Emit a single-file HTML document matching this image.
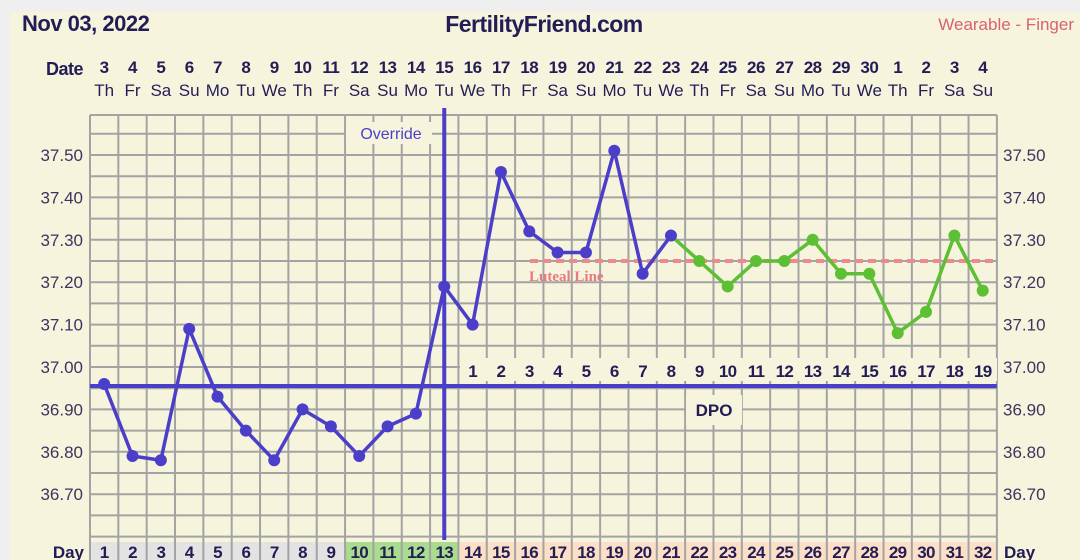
<!DOCTYPE html><html><head><meta charset="utf-8"><style>
body{margin:0;width:1080px;height:560px;overflow:hidden;background:#efefef;font-family:"Liberation Sans",sans-serif}
svg{display:block}
</style></head><body>
<svg id="s" width="1080" height="560" xmlns="http://www.w3.org/2000/svg">
<rect x="10" y="12" width="1070" height="548" fill="#f7f4de"/>
<g id="grid"></g>
<g font-family="Liberation Sans, sans-serif">
<text x="22" y="31" font-size="22" font-weight="bold" fill="#231c55" letter-spacing="-0.5">Nov 03, 2022</text>
<text x="544" y="32" font-size="23" font-weight="bold" fill="#231c55" text-anchor="middle" letter-spacing="-0.5">FertilityFriend.com</text>
<text x="1074" y="30" font-size="17" fill="#d8636b" text-anchor="end">Wearable - Finger</text>
<text x="83" y="75" font-size="18" font-weight="bold" fill="#231c55" text-anchor="end" letter-spacing="-0.5">Date</text>
<text x="84" y="558" font-size="17" font-weight="bold" fill="#231c55" text-anchor="end">Day</text>
<text x="1004" y="558" font-size="17" font-weight="bold" fill="#231c55">Day</text>
<text x="391" y="139" font-size="16" fill="#4b3fc9" text-anchor="middle">Override</text>
<text x="714" y="416" font-size="17" font-weight="bold" fill="#231c55" text-anchor="middle">DPO</text>
<text x="529" y="281" font-size="15" font-weight="bold" font-family="Liberation Serif, serif" fill="#e87a80">Luteal Line</text>
</g>
<g id="dyn" font-family="Liberation Sans, sans-serif"></g>
</svg>
<script>
(function(){
var NS="http://www.w3.org/2000/svg";
var g=document.getElementById('grid'),d=document.getElementById('dyn');
function el(p,t,a,txt){var e=document.createElementNS(NS,t);for(var k in a)e.setAttribute(k,a[k]);if(txt!==undefined)e.textContent=String(txt);p.appendChild(e);return e;}
var x0=90,w=28.34,gTop=115,gBot=542;
function cx(i){return x0+(i-0.5)*w;}
function Y(t){return 367-(t-37)*424;}
for(var i=1;i<=32;i++){var c=i<=9?'#e3e3e3':i<=13?'#a9dc8e':'#fbdfc6';el(g,'rect',{x:x0+(i-1)*w,y:gBot,width:w,height:20,fill:c});}
for(var k=0;k<30;k++){var y=155-21.2*2+21.2*k;if(y<gTop||y>gBot)continue;el(g,'line',{x1:x0,x2:x0+32*w,y1:y,y2:y,stroke:'#a3a3a3','stroke-width':2});}
for(var i=0;i<=32;i++){var x=x0+i*w;el(g,'line',{x1:x,x2:x,y1:gTop,y2:560,stroke:'#a3a3a3','stroke-width':2});}
el(g,'line',{x1:x0,x2:x0+32*w,y1:gTop,y2:gTop,stroke:'#a3a3a3','stroke-width':2});
el(g,'rect',{x:346,y:122,width:86,height:22,fill:'#f7f4de'});
el(g,'rect',{x:686,y:395,width:56,height:30,fill:'#f7f4de'});
el(g,'rect',{x:460,y:358,width:537,height:23,fill:'#f7f4de'});
var date=[3,4,5,6,7,8,9,10,11,12,13,14,15,16,17,18,19,20,21,22,23,24,25,26,27,28,29,30,1,2,3,4];
var wd=['Th','Fr','Sa','Su','Mo','Tu','We'];
for(var i=1;i<=32;i++){
 el(d,'text',{x:cx(i),y:73,'font-size':17,'font-weight':'bold',fill:'#231c55','text-anchor':'middle','letter-spacing':'-0.5'},date[i-1]);
 el(d,'text',{x:cx(i),y:96,'font-size':17,fill:'#231c55','text-anchor':'middle'},wd[(i-1)%7]);
 el(d,'text',{x:cx(i),y:558,'font-size':17,'font-weight':'bold',fill:'#231c55','text-anchor':'middle','letter-spacing':'-0.7'},i);
 if(i>=14)el(d,'text',{x:cx(i),y:377,'font-size':17,'font-weight':'bold',fill:'#231c55','text-anchor':'middle','letter-spacing':'-0.7'},i-13);
}
for(var k=0;k<9;k++){var t=(37.5-k*0.1),yy=Y(t)+6,s=t.toFixed(2);
 el(d,'text',{x:83,y:yy,'font-size':17,fill:'#3a3560','text-anchor':'end'},s);
 el(d,'text',{x:1003,y:yy,'font-size':17,fill:'#3a3560'},s);}
el(d,'line',{x1:530,x2:996,y1:Y(37.25),y2:Y(37.25),stroke:'#ee8a8d','stroke-width':4,'stroke-dasharray':'8 5'});
el(d,'line',{x1:x0,x2:x0+32*w,y1:386,y2:386,stroke:'#4b3fc9','stroke-width':4});
el(d,'line',{x1:cx(13),x2:cx(13),y1:108,y2:540,stroke:'#4b3fc9','stroke-width':4});
var T=[36.96,36.79,36.78,37.09,36.93,36.85,36.78,36.90,36.86,36.79,36.86,36.89,37.19,37.10,37.46,37.32,37.27,37.27,37.51,37.22,37.31,37.25,37.19,37.25,37.25,37.30,37.22,37.22,37.08,37.13,37.31,37.18];
var B='#4b3fc9',G='#5cbf34';
var pb=T.slice(0,21).map(function(t,i){return cx(i+1)+','+Y(t);}).join(' ');
var pg=T.slice(20).map(function(t,i){return cx(i+21)+','+Y(t);}).join(' ');
el(d,'polyline',{points:pb,fill:'none',stroke:B,'stroke-width':3.5,'stroke-linejoin':'round'});
el(d,'polyline',{points:pg,fill:'none',stroke:G,'stroke-width':3.5,'stroke-linejoin':'round'});
T.forEach(function(t,i){el(d,'circle',{cx:cx(i+1),cy:Y(t),r:6,fill:i<21?B:G});});
})();
</script>
</body></html>
